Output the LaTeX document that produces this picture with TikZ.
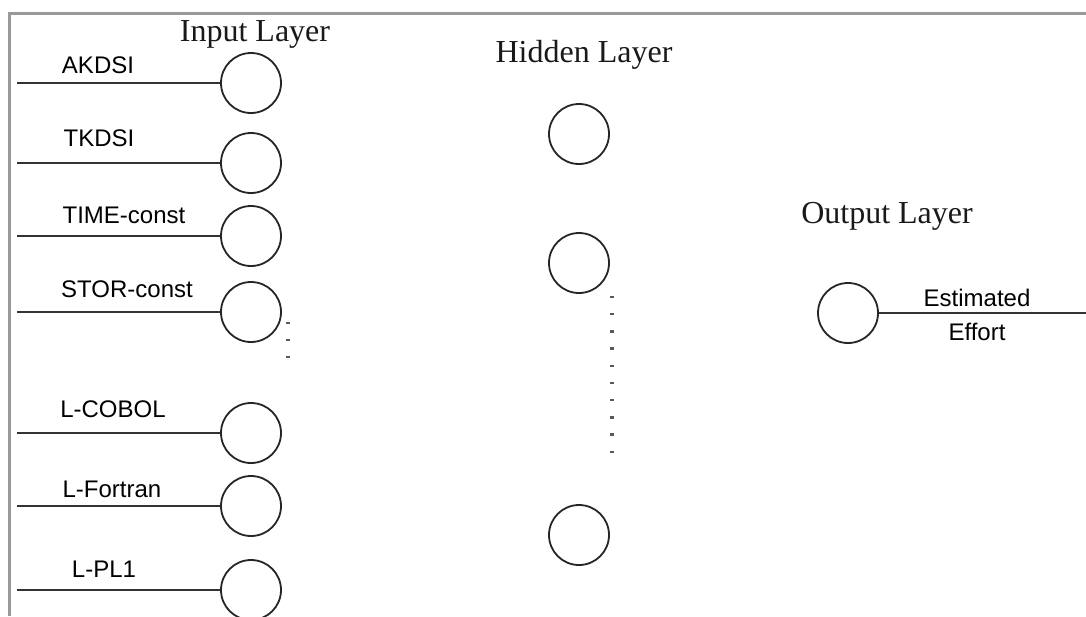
\documentclass[tikz,border=0pt]{standalone}
\usepackage{fontspec}
\setmainfont{Liberation Serif}
\newfontfamily\labfont{Liberation Sans}
\begin{document}
\begin{tikzpicture}[x=1pt,y=-1pt,
  neuron/.style={circle,draw=black!85,line width=1.8pt,minimum size=60pt,inner sep=0pt},
  conn/.style={draw=black!80,line width=2pt},
  frameline/.style={draw=black!40,line width=3pt},
  lab/.style={font=\labfont\fontsize{24}{28}\selectfont,anchor=base,inner sep=0pt,text=black},
  layertitle/.style={font=\fontsize{32}{38}\selectfont,anchor=base,inner sep=0pt,text=black!90},
  dotmark/.style={fill=black!65,minimum width=3.5pt,minimum height=2.5pt,inner sep=0pt,draw=none,rectangle}]
\useasboundingbox (0,0) rectangle (1086,616);
\fill[white] (0,0) rectangle (1086,616);
% frame
\coordinate (ftr) at (1086,13);
\coordinate (ftl) at (9,13);
\coordinate (fbl) at (9,616);
\draw[frameline] (ftr) -- (ftl) -- (fbl);
% titles
\node[layertitle] (tin) at (255,41) {Input Layer};
\node[layertitle] (thid) at (584,62) {Hidden Layer};
\node[layertitle] (tout) at (887,223) {Output Layer};
% input neurons
\node[neuron] (i1) at (251,83) {};
\node[neuron] (i2) at (251,163) {};
\node[neuron] (i3) at (251,236) {};
\node[neuron] (i4) at (251,312) {};
\node[neuron] (i5) at (251,433) {};
\node[neuron] (i6) at (251,506) {};
\node[neuron] (i7) at (251,590) {};
% input line starts
\coordinate (s1) at (17,83);
\coordinate (s2) at (17,163);
\coordinate (s3) at (17,236);
\coordinate (s4) at (17,312);
\coordinate (s5) at (17,433);
\coordinate (s6) at (17,506);
\coordinate (s7) at (17,590);
\foreach \k in {1,...,7}{\draw[conn] (s\k) -- (i\k.west);}
% input labels
\node[lab] (l1) at (98,73) {AKDSI};
\node[lab] (l2) at (99,146) {TKDSI};
\node[lab] (l3) at (124,223) {TIME-const};
\node[lab] (l4) at (127,297) {STOR-const};
\node[lab] (l5) at (113,417) {L-COBOL};
\node[lab] (l6) at (112,497) {L-Fortran};
\node[lab] (l7) at (104,577) {L-PL1};
% input dots
\foreach \yy [count=\n] in {323,340,357}{\node[dotmark] (id\n) at (288,\yy) {};}
% hidden neurons
\node[neuron] (h1) at (579,134) {};
\node[neuron] (h2) at (579,263) {};
\node[neuron] (h3) at (579,535) {};
\foreach \n in {0,...,9}{\node[dotmark] (hd\n) at (612,297+\n*17.2) {};}
% output neuron
\node[neuron] (o1) at (848,313) {};
\coordinate (oe) at (1086,313);
\draw[conn] (o1.east) -- (oe);
\node[lab] (le1) at (977,306) {Estimated};
\node[lab] (le2) at (977,340) {Effort};
\end{tikzpicture}
\end{document}
